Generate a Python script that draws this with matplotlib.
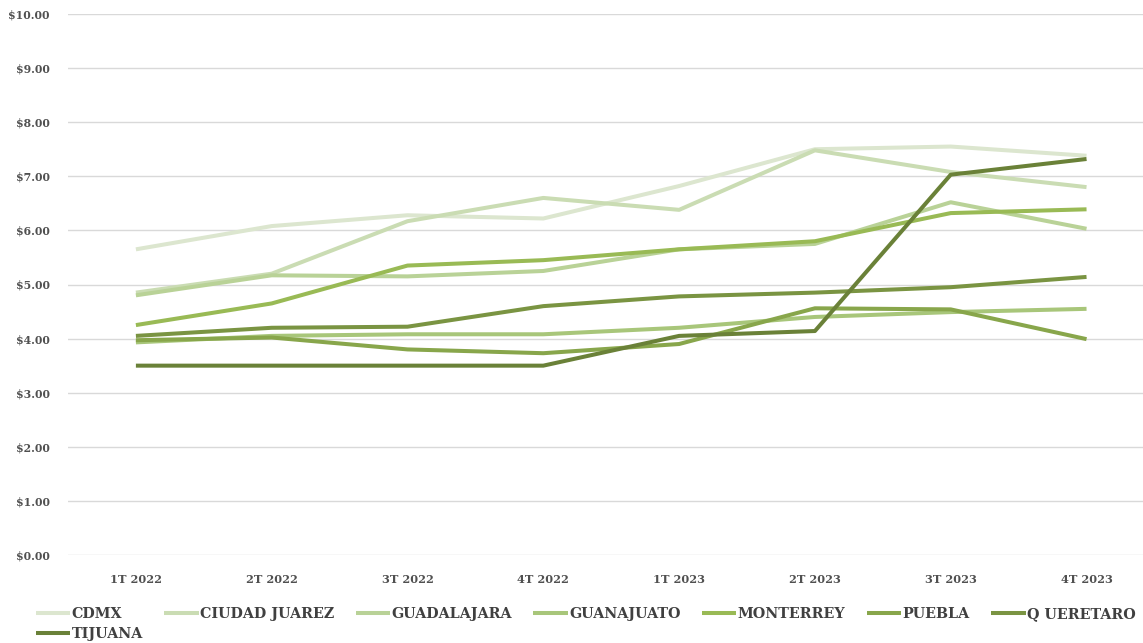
import matplotlib
matplotlib.use("Agg")
import matplotlib.pyplot as plt
from matplotlib.ticker import FuncFormatter

# datos por trimestre
trimestres = ['1T 2022', '2T 2022', '3T 2022', '4T 2022', '1T 2023', '2T 2023', '3T 2023', '4T 2023']

cdmx = [5.65, 6.08, 6.28, 6.22, 6.82, 7.50, 7.55, 7.38]
ciudad_juarez = [4.85, 5.20, 6.17, 6.60, 6.38, 7.48, 7.08, 6.80]
guadalajara = [4.80, 5.17, 5.15, 5.25, 5.65, 5.75, 6.52, 6.03]
guanajuato = [3.93, 4.05, 4.08, 4.08, 4.20, 4.40, 4.49, 4.55]
monterrey = [4.25, 4.65, 5.35, 5.45, 5.65, 5.80, 6.32, 6.39]
puebla = [3.97, 4.02, 3.80, 3.73, 3.90, 4.56, 4.54, 3.99]
queretaro = [4.05, 4.20, 4.22, 4.60, 4.78, 4.85, 4.95, 5.14]
tijuana = [3.50, 3.50, 3.50, 3.50, 4.05, 4.14, 7.03, 7.32]

series = {
    'CDMX': cdmx,
    'CIUDAD JUAREZ': ciudad_juarez,
    'GUADALAJARA': guadalajara,
    'GUANAJUATO': guanajuato,
    'MONTERREY': monterrey,
    'PUEBLA': puebla,
    'Q UERETARO': queretaro,
    'TIJUANA': tijuana,
}
colores = ['#dce6cf', '#cadcb3', '#b9d297', '#a8c67a', '#99ba55', '#88a64b', '#7a9442', '#6a8138']

plt.rcParams['font.family'] = ['DejaVu Serif']

fig = plt.figure(figsize=(11.43, 6.43), dpi=100)
ax = fig.add_axes([68 / 1143, 1 - 555 / 643, 1 - 68 / 1143 + 0.01, (555 - 14) / 643])

x = range(len(trimestres))
handles = []
for (nombre, valores), c in zip(series.items(), colores):
    h, = ax.plot(x, valores, color=c, lw=2.9, label=nombre, solid_capstyle='butt')
    handles.append(h)

ax.set_ylim(0, 10)
ax.set_xlim(-0.5, 7.5)
ax.set_yticks(range(0, 11))
ax.yaxis.set_major_formatter(FuncFormatter(lambda v, p: f'${v:.2f}'))
ax.set_xticks(list(x))
ax.set_xticklabels(trimestres)
ax.grid(axis='y', color='#d9d9d9', lw=1)
ax.set_axisbelow(True)
for s in ax.spines.values():
    s.set_visible(False)
ax.tick_params(length=0, colors='#505050')
ax.tick_params(axis='x', labelsize=8.2, pad=14)
ax.tick_params(axis='y', labelsize=7.8, pad=13)
for t in ax.get_xticklabels() + ax.get_yticklabels():
    t.set_fontweight('bold')

# orden para que la leyenda se lea por filas
orden = [0, 7, 1, 2, 3, 4, 5, 6]
leg = fig.legend([handles[i] for i in orden], [list(series)[i] for i in orden],
                 ncol=7, loc='upper left', bbox_to_anchor=(0.02, 0.076),
                 frameon=False, handlelength=2.4, handletextpad=0.1,
                 columnspacing=1.5, labelspacing=0.45,
                 prop={'size': 10.3, 'weight': 'bold'})
for t in leg.get_texts():
    t.set_color('#404040')

fig.savefig('out.png', dpi=100)
